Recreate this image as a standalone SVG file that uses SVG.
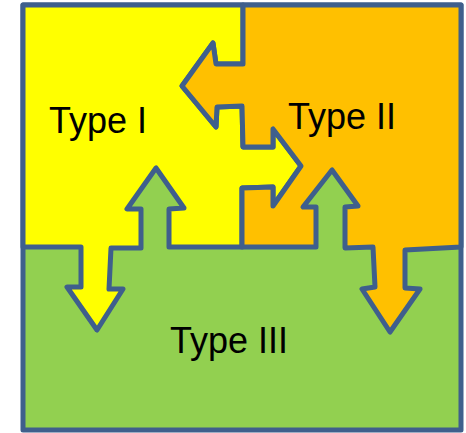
<svg xmlns="http://www.w3.org/2000/svg" width="466" height="433" viewBox="0 0 466 433">
<style>
.r{stroke:#3F5F8C;stroke-width:5;stroke-linejoin:round}
.t{font-family:"Liberation Sans",Arial,sans-serif;font-size:36px;fill:#000}
</style>
<rect width="466" height="433" fill="#fff"/>
<g id="type3">
<rect class="r" x="23" y="5" width="438" height="425" fill="#92D050"/>
<text class="t" x="170" y="353">Type III</text>
</g>
<g id="type1">
<polygon class="r" fill="#FFFF00" points="23,5 243,5 243,64 216,64 213,43 182,86 216,127 217,107 242,106 243,147 273,147 273,129 301,166 273,206 273,187 242,188 242,247 169,247 169,209 184,208 156,168 127,209 141,209 141,248 111,248 109,289 123,289 97,330 67,287 81,287 81,247 23,247"/>
<text class="t" x="49" y="133">Type I</text>
</g>
<g id="type2">
<polygon class="r" fill="#FFC000" points="243,5 461,5 461,247 405,250 405,288 420,289 390,332 362,289 375,287 373,247 345,248 345,207 358,206 332,170 303,207 316,207 316,247 242,247 242,188 273,187 273,206 301,166 273,129 273,147 243,147 242,106 217,107 216,127 182,86 213,43 216,64 243,64"/>
<text class="t" x="288" y="129">Type II</text>
</g>
<g id="connectors"></g>
</svg>
